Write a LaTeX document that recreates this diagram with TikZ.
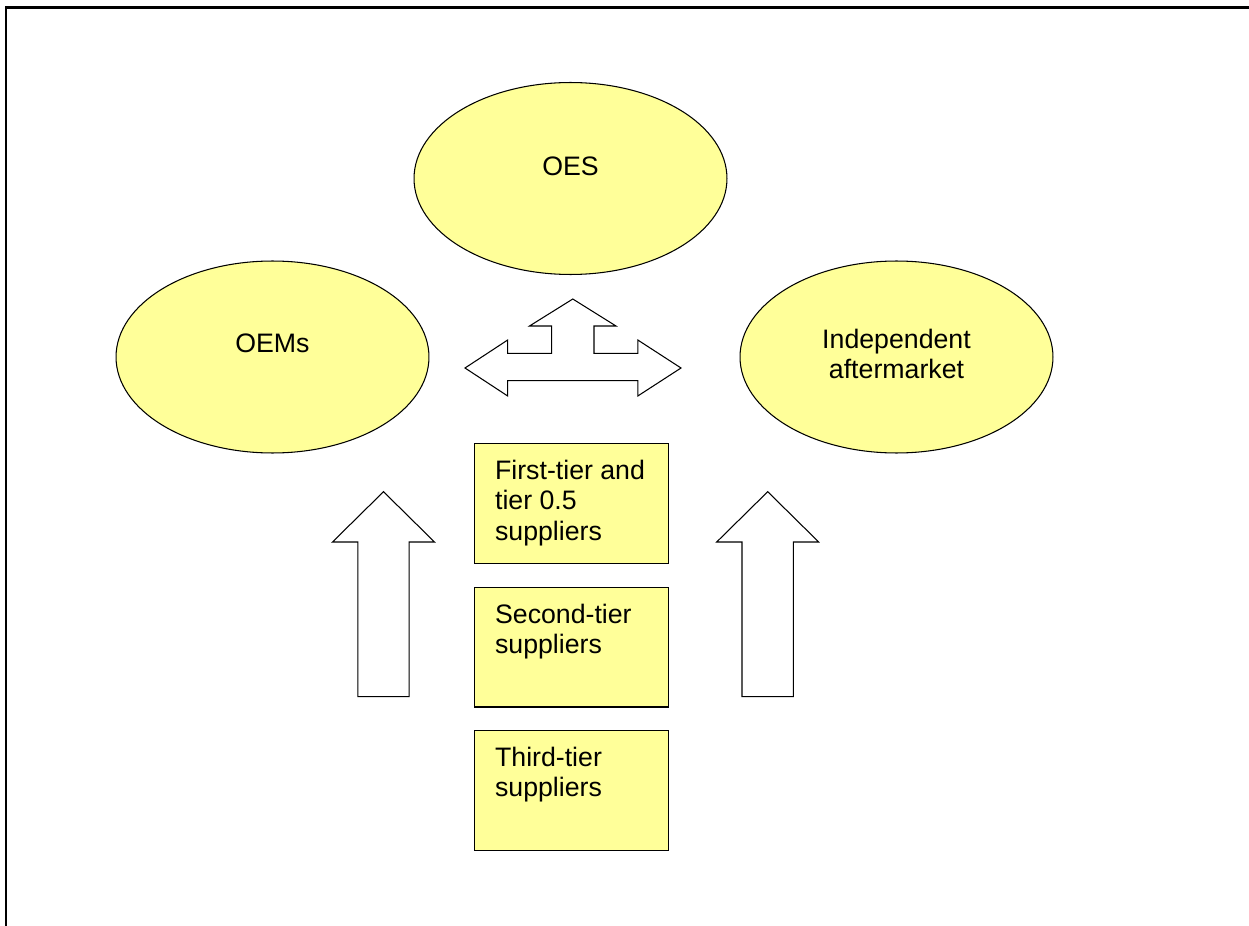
\documentclass[tikz,border=0pt]{standalone}
\usepackage{fontspec}
\setmainfont{Liberation Sans}
\usetikzlibrary{positioning, shapes.geometric}
\definecolor{paleyellow}{HTML}{FFFF99}

\begin{document}
\begin{tikzpicture}[
    x=0.02cm, y=-0.02cm,
    node distance=0.45cm,
    oval/.style={ellipse, draw, line width=0.6pt, fill=paleyellow, minimum width=6.26cm, minimum height=3.84cm, inner sep=0pt},
    tierbox/.style={rectangle, draw, line width=0.6pt, fill=paleyellow, minimum width=3.88cm, minimum height=2.4cm, inner sep=0pt},
    txt/.style={font=\fontsize{15.2}{17.2}\selectfont, inner sep=0pt, align=center},
    boxtxt/.style={txt, align=left, anchor=north west},
    blk/.style={draw, line width=0.6pt, fill=white, line join=miter}
  ]
  \useasboundingbox (0,0) rectangle (1249,926);
  % frame: top and left edges only
  \draw[line width=1.15pt] (6,926) -- (6,7.5) -- (1249,7.5);

  % markets
  \node[oval] (oes) at (570.5,178.5) {};
  \node[oval] (oems) at (272.5,357) {};
  \node[oval] (indep) at (896.5,357) {};
  \node[txt] (oestxt) at ([shift={(0,-12.5)}]oes.center) {OES};
  \node[txt] (oemstxt) at ([shift={(0,-14)}]oems.center) {OEMs};
  \node[txt] (indeptxt) at ([shift={(0,-3)}]indep.center) {Independent\\aftermarket};

  % supplier tiers
  \node[tierbox] (tier1) at (571.75,503.5) {};
  \node[tierbox, below=of tier1] (tier2) {};
  \node[tierbox, below=of tier2] (tier3) {};
  \node[boxtxt] (tier1txt) at ([shift={(20.5,17)}]tier1.north west) {First-tier and\\tier 0.5\\suppliers};
  \node[boxtxt] (tier2txt) at ([shift={(20.5,17)}]tier2.north west) {Second-tier\\suppliers};
  \node[boxtxt] (tier3txt) at ([shift={(20.5,17)}]tier3.north west) {Third-tier\\suppliers};

  % three-way block arrow
  \draw[blk] (572.8,299) -- (616,326) -- (594,326) -- (594,353.3) -- (637.8,353.3)
    -- (637.8,340) -- (681,368) -- (637.8,396) -- (637.8,380.7) -- (507.7,380.7)
    -- (507.7,396) -- (465,368) -- (507.7,340) -- (507.7,353.3) -- (551.7,353.3)
    -- (551.7,326) -- (529.5,326) -- cycle;

  % upward block arrows
  \foreach \cx in {383.5, 767.7}
    \draw[blk] (\cx,491.7) -- (\cx+51,542) -- (\cx+25.7,542) -- (\cx+25.7,696.7)
      -- (\cx-25.7,696.7) -- (\cx-25.7,542) -- (\cx-51,542) -- cycle;
\end{tikzpicture}
\end{document}
